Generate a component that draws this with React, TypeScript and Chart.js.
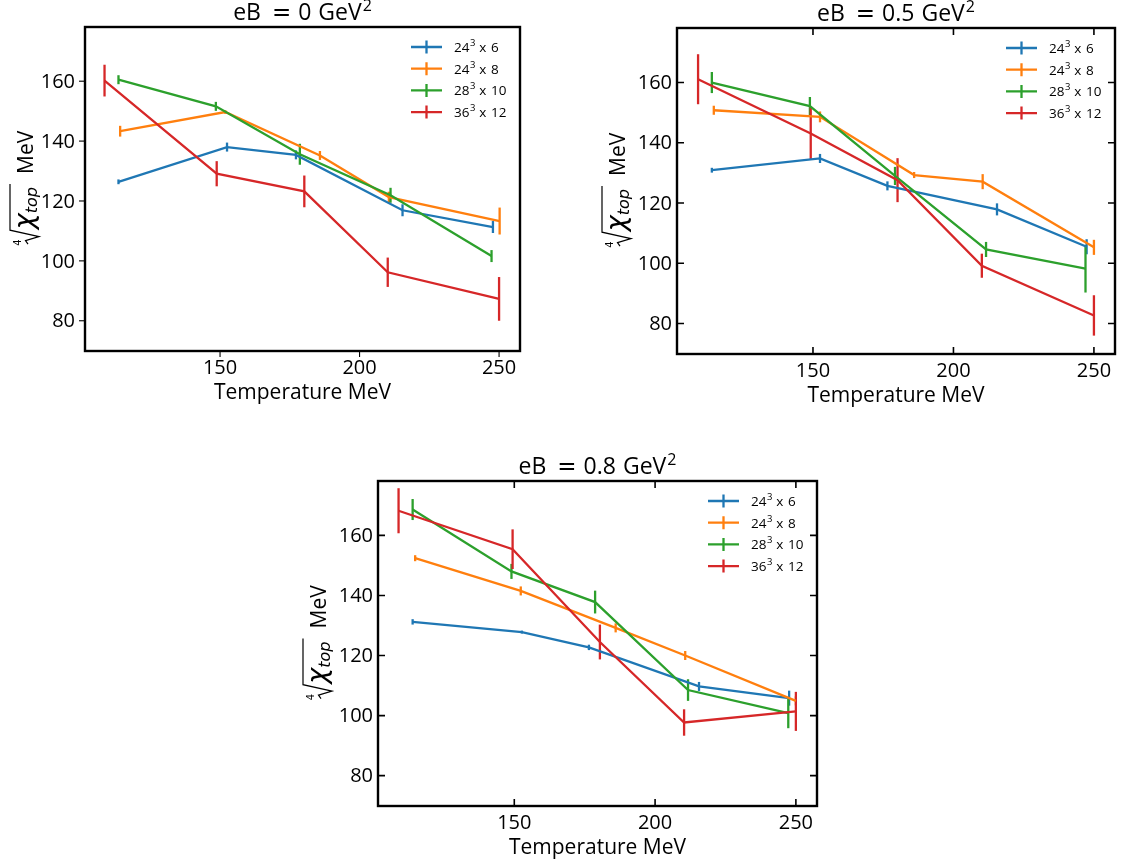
import React, { useEffect, useRef } from "react";
import { Chart, registerables } from "chart.js";

Chart.register(...registerables);

const TEXT_FONT = "'Open Sans', Lato, sans-serif";
const MATH_FONT = "'DejaVu Sans', sans-serif";

const COLORS = ["#1f77b4", "#ff7f0e", "#2ca02c", "#d62728"];
const LATTICE_SIDE = ["24", "24", "28", "36"];
const LATTICE_TIME = ["6", "8", "10", "12"];
const EB_VALUES = ["0", "0.5", "0.8"];
const X_TICKS = [150, 200, 250];
const Y_TICKS = [80, 100, 120, 140, 160];
const X_RANGE = [101.6, 257.5];
const Y_RANGE = [69.9, 178.1];

// eB = 0 GeV^2
const T_B0_L6 = [113.6, 152.5, 177.2, 215.4, 247.8];
const V_B0_L6 = [126.4, 138.0, 135.4, 116.9, 111.3];
const E_B0_L6 = [0.8, 1.5, 1.5, 2.0, 2.0];
const T_B0_L8 = [114.2, 151.9, 185.8, 210.5, 250.2];
const V_B0_L8 = [143.3, 149.7, 135.2, 121.3, 113.3];
const E_B0_L8 = [1.8, 0.6, 1.5, 1.8, 4.5];
const T_B0_L10 = [113.6, 148.5, 178.6, 211.1, 247.3];
const V_B0_L10 = [160.5, 151.6, 135.6, 121.9, 101.6];
const E_B0_L10 = [1.5, 1.5, 3.5, 2.5, 2.0];
const T_B0_L12 = [108.6, 148.8, 180.2, 210.1, 250.0];
const V_B0_L12 = [160.2, 129.1, 123.2, 96.2, 87.3];
const E_B0_L12 = [5.3, 4.2, 5.3, 4.9, 7.3];

// eB = 0.5 GeV^2
const T_B5_L6 = [114.0, 152.5, 176.5, 215.5, 247.4];
const V_B5_L6 = [130.9, 134.8, 125.7, 117.9, 105.5];
const E_B5_L6 = [0.8, 1.5, 1.5, 2.0, 2.5];
const T_B5_L8 = [114.7, 152.5, 186.0, 210.4, 250.0];
const V_B5_L8 = [150.8, 148.6, 129.3, 127.1, 105.3];
const E_B5_L8 = [1.5, 1.8, 1.0, 2.5, 2.5];
const T_B5_L10 = [114.0, 148.9, 179.2, 211.6, 247.0];
const V_B5_L10 = [160.0, 152.2, 129.0, 104.6, 98.2];
const E_B5_L10 = [3.5, 3.0, 3.0, 2.5, 7.9];
const T_B5_L12 = [109.1, 149.2, 180.1, 210.1, 250.0];
const V_B5_L12 = [161.1, 143.1, 127.6, 99.2, 82.7];
const E_B5_L12 = [8.3, 8.7, 7.3, 4.0, 6.7];

// eB = 0.8 GeV^2
const T_B8_L6 = [113.9, 152.7, 176.5, 215.6, 247.6];
const V_B8_L6 = [131.2, 127.8, 122.7, 109.7, 105.8];
const E_B8_L6 = [0.9, 0.5, 0.9, 1.5, 2.5];
const T_B8_L8 = [114.8, 152.3, 186.0, 210.7, 250.0];
const V_B8_L8 = [152.4, 141.5, 129.2, 120.0, 104.9];
const E_B8_L8 = [1.0, 1.5, 1.5, 1.5, 1.5];
const T_B8_L10 = [113.9, 149.0, 178.7, 211.7, 247.3];
const V_B8_L10 = [168.6, 148.0, 137.8, 108.5, 100.8];
const E_B8_L10 = [3.5, 2.5, 3.8, 3.6, 5.0];
const T_B8_L12 = [108.9, 149.4, 180.4, 210.3, 250.0];
const V_B8_L12 = [168.2, 155.4, 124.5, 97.7, 101.4];
const E_B8_L12 = [7.5, 6.6, 5.8, 4.4, 6.5];

const PANEL_T = [
  [T_B0_L6, T_B0_L8, T_B0_L10, T_B0_L12],
  [T_B5_L6, T_B5_L8, T_B5_L10, T_B5_L12],
  [T_B8_L6, T_B8_L8, T_B8_L10, T_B8_L12],
];
const PANEL_V = [
  [V_B0_L6, V_B0_L8, V_B0_L10, V_B0_L12],
  [V_B5_L6, V_B5_L8, V_B5_L10, V_B5_L12],
  [V_B8_L6, V_B8_L8, V_B8_L10, V_B8_L12],
];
const PANEL_E = [
  [E_B0_L6, E_B0_L8, E_B0_L10, E_B0_L12],
  [E_B5_L6, E_B5_L8, E_B5_L10, E_B5_L12],
  [E_B8_L6, E_B8_L8, E_B8_L10, E_B8_L12],
];

const LAYOUT = [
  { left: 0, top: 0, w: 560, h: 420, pad: { left: 85, top: 27, right: 40, bottom: 69 }, inward: false, labelPad: 10 },
  { left: 600, top: 0, w: 521, h: 420, pad: { left: 77, top: 28, right: 6, bottom: 66 }, inward: true, labelPad: 5 },
  { left: 290, top: 440, w: 560, h: 428, pad: { left: 88, top: 41, right: 33, bottom: 62 }, inward: true, labelPad: 5 },
];

function drawTitle(ctx: CanvasRenderingContext2D, cx: number, baseY: number, value: string) {
  const big = `23px ${TEXT_FONT}`;
  const eq = `23px ${MATH_FONT}`;
  const sup = `16px ${TEXT_FONT}`;
  ctx.font = big;
  const wEB = ctx.measureText("eB").width;
  const wVal = ctx.measureText(value).width;
  const wGeV = ctx.measureText("GeV").width;
  ctx.font = eq;
  const wEq = ctx.measureText("=").width;
  ctx.font = sup;
  const w2 = ctx.measureText("2").width;
  const g1 = 11, g2 = 7, g3 = 7;
  const total = wEB + g1 + wEq + g2 + wVal + g3 + wGeV + 1 + w2;
  let x = cx - total / 2;
  ctx.fillStyle = "#000";
  ctx.textAlign = "left";
  ctx.textBaseline = "alphabetic";
  ctx.font = big;
  ctx.fillText("eB", x, baseY);
  x += wEB + g1;
  ctx.font = eq;
  ctx.fillText("=", x, baseY);
  x += wEq + g2;
  ctx.font = big;
  ctx.fillText(value, x, baseY);
  x += wVal + g3;
  ctx.fillText("GeV", x, baseY);
  x += wGeV + 1;
  ctx.font = sup;
  ctx.fillText("2", x, baseY - 9);
}

function drawYLabel(ctx: CanvasRenderingContext2D, baseX: number, cy: number) {
  ctx.save();
  ctx.translate(baseX, cy);
  ctx.rotate(-Math.PI / 2);
  const chiF = `italic 27px ${MATH_FONT}`;
  const topF = `italic 16px ${MATH_FONT}`;
  const mevF = `21px ${TEXT_FONT}`;
  ctx.font = chiF;
  const wChi = ctx.measureText("χ").width;
  ctx.font = topF;
  const wTop = ctx.measureText("top").width;
  ctx.font = mevF;
  const wMeV = ctx.measureText("MeV").width;
  const radW = 17;
  const gap = 10;
  const total = radW + 1 + wChi + wTop + 3 + gap + wMeV;
  let u = -total / 2;
  ctx.fillStyle = "#000";
  ctx.strokeStyle = "#000";
  ctx.textAlign = "left";
  ctx.textBaseline = "alphabetic";
  ctx.font = `10px ${MATH_FONT}`;
  ctx.fillText("4", u + 1.5, -12);
  ctx.lineWidth = 1.2;
  ctx.beginPath();
  ctx.moveTo(u + 3, -5);
  ctx.lineTo(u + 6.5, -7.5);
  ctx.lineTo(u + 10.5, 6);
  ctx.lineTo(u + radW, -23);
  ctx.lineTo(u + radW + 1 + wChi + wTop + 3, -23);
  ctx.stroke();
  u += radW + 1;
  ctx.font = chiF;
  ctx.fillText("χ", u, 0);
  u += wChi;
  ctx.font = topF;
  ctx.fillText("top", u, 4);
  u += wTop + 3 + gap;
  ctx.font = mevF;
  ctx.fillText("MeV", u, 0);
  ctx.restore();
}

function makePlugin(panel: number) {
  const lay = LAYOUT[panel];
  return {
    id: "decor" + panel,
    beforeDatasetsDraw(chart: any) {
      const ctx: CanvasRenderingContext2D = chart.ctx;
      const xs = chart.scales.x;
      const ys = chart.scales.y;
      const ca = chart.chartArea;
      ctx.save();
      ctx.beginPath();
      ctx.rect(ca.left, ca.top, ca.right - ca.left, ca.bottom - ca.top);
      ctx.clip();
      chart.data.datasets.forEach((ds: any) => {
        ctx.strokeStyle = ds.borderColor;
        ctx.lineWidth = 2.3;
        ds.data.forEach((p: any, j: number) => {
          const e = ds.errors[j];
          const px = xs.getPixelForValue(p.x);
          ctx.beginPath();
          ctx.moveTo(px, ys.getPixelForValue(p.y - e));
          ctx.lineTo(px, ys.getPixelForValue(p.y + e));
          ctx.stroke();
        });
      });
      ctx.restore();
    },
    afterDraw(chart: any) {
      const ctx: CanvasRenderingContext2D = chart.ctx;
      const xs = chart.scales.x;
      const ys = chart.scales.y;
      const { left: L, right: R, top: T, bottom: B } = chart.chartArea;
      ctx.save();
      // ticks
      ctx.strokeStyle = "#000";
      if (lay.inward) {
        ctx.lineWidth = 1.6;
        const tl = 7;
        X_TICKS.forEach((v) => {
          const px = xs.getPixelForValue(v);
          ctx.beginPath();
          ctx.moveTo(px, B);
          ctx.lineTo(px, B - tl);
          ctx.moveTo(px, T);
          ctx.lineTo(px, T + tl);
          ctx.stroke();
        });
        Y_TICKS.forEach((v) => {
          const py = ys.getPixelForValue(v);
          ctx.beginPath();
          ctx.moveTo(L, py);
          ctx.lineTo(L + tl, py);
          ctx.moveTo(R, py);
          ctx.lineTo(R - tl, py);
          ctx.stroke();
        });
      } else {
        ctx.lineWidth = 1.1;
        const tl = 6;
        X_TICKS.forEach((v) => {
          const px = xs.getPixelForValue(v);
          ctx.beginPath();
          ctx.moveTo(px, B);
          ctx.lineTo(px, B + tl);
          ctx.stroke();
        });
        Y_TICKS.forEach((v) => {
          const py = ys.getPixelForValue(v);
          ctx.beginPath();
          ctx.moveTo(L, py);
          ctx.lineTo(L - tl, py);
          ctx.stroke();
        });
      }
      // spines
      ctx.lineWidth = 2.4;
      ctx.strokeRect(L, T, R - L, B - T);
      // tick labels
      ctx.fillStyle = "#000";
      ctx.font = `20px ${TEXT_FONT}`;
      ctx.textBaseline = "middle";
      ctx.textAlign = "right";
      Y_TICKS.forEach((v) => {
        ctx.fillText(String(v), L - lay.labelPad, ys.getPixelForValue(v) + 1);
      });
      ctx.textAlign = "center";
      X_TICKS.forEach((v) => {
        ctx.fillText(String(v), xs.getPixelForValue(v), B + 17);
      });
      // x label
      ctx.font = `21px ${TEXT_FONT}`;
      ctx.fillText("Temperature MeV", (L + R) / 2, B + 42);
      // y label
      drawYLabel(ctx, L - 52, (T + B) / 2);
      // title
      drawTitle(ctx, (L + R) / 2, T - 7, EB_VALUES[panel]);
      // legend
      for (let i = 0; i < COLORS.length; i++) {
        const y = T + 20 + i * 21.7;
        ctx.strokeStyle = COLORS[i];
        ctx.lineWidth = 2.3;
        ctx.beginPath();
        ctx.moveTo(R - 109, y);
        ctx.lineTo(R - 78, y);
        ctx.moveTo(R - 93.5, y - 6.5);
        ctx.lineTo(R - 93.5, y + 6.5);
        ctx.stroke();
        ctx.fillStyle = "#000";
        ctx.textAlign = "left";
        ctx.textBaseline = "alphabetic";
        let x = R - 66;
        ctx.font = `13.5px ${TEXT_FONT}`;
        ctx.fillText(LATTICE_SIDE[i], x, y + 5);
        x += ctx.measureText(LATTICE_SIDE[i]).width + 0.5;
        ctx.font = `9.5px ${TEXT_FONT}`;
        ctx.fillText("3", x, y - 1);
        x += ctx.measureText("3").width + 4;
        ctx.font = `13.5px ${TEXT_FONT}`;
        ctx.fillText("x", x, y + 5);
        x += ctx.measureText("x").width + 4.5;
        ctx.fillText(LATTICE_TIME[i], x, y + 5);
      }
      ctx.restore();
    },
  };
}

function Panel({ panel }: { panel: number }) {
  const ref = useRef<HTMLCanvasElement | null>(null);
  const lay = LAYOUT[panel];
  useEffect(() => {
    if (!ref.current) return;
    const datasets = COLORS.map((c, i) => ({
      label: `${LATTICE_SIDE[i]}^3 x ${LATTICE_TIME[i]}`,
      data: PANEL_T[panel][i].map((t, j) => ({ x: t, y: PANEL_V[panel][i][j] })),
      errors: PANEL_E[panel][i],
      borderColor: c,
      backgroundColor: c,
      borderWidth: 2.3,
      pointRadius: 0,
      tension: 0,
      fill: false,
      order: COLORS.length - 1 - i,
    }));
    const chart = new Chart(ref.current, {
      type: "line",
      data: { datasets } as any,
      options: {
        animation: false,
        responsive: false,
        devicePixelRatio: 1,
        layout: { padding: lay.pad },
        plugins: { legend: { display: false }, tooltip: { enabled: false }, title: { display: false } },
        scales: {
          x: { type: "linear", min: X_RANGE[0], max: X_RANGE[1], display: false },
          y: { type: "linear", min: Y_RANGE[0], max: Y_RANGE[1], display: false },
        },
      },
      plugins: [makePlugin(panel)],
    });
    return () => chart.destroy();
  }, [panel]);
  return (
    <canvas
      ref={ref}
      width={lay.w}
      height={lay.h}
      style={{ position: "absolute", left: lay.left, top: lay.top, width: lay.w, height: lay.h }}
    />
  );
}

export default function App() {
  return (
    <div style={{ position: "absolute", left: 0, top: 0, width: 1121, height: 868, background: "#fff" }}>
      <Panel panel={0} />
      <Panel panel={1} />
      <Panel panel={2} />
    </div>
  );
}
